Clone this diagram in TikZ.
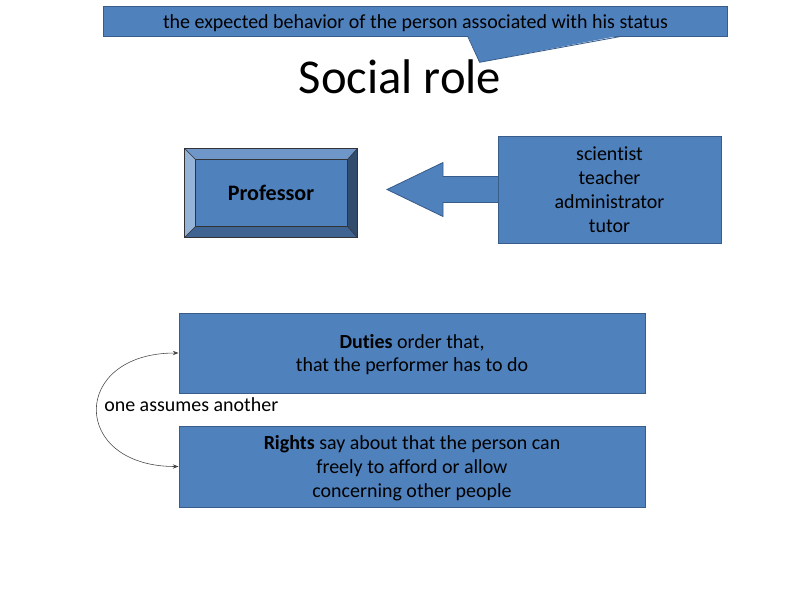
\documentclass[tikz,border=0pt]{standalone}
\usepackage{fontspec}
\setmainfont[Ligatures={NoCommon}]{Carlito}
\definecolor{slblue}{RGB}{79,129,189}
\definecolor{slborder}{RGB}{56,93,138}
\definecolor{sltop}{RGB}{110,150,200}
\definecolor{slleft}{RGB}{150,180,216}
\definecolor{slright}{RGB}{50,76,110}
\definecolor{slbottom}{RGB}{64,100,146}
\definecolor{slline}{RGB}{70,70,70}
\usetikzlibrary{arrows.meta,positioning,calc}
\tikzset{
  bluebox/.style={draw=slborder, line width=0.6pt, fill=slblue, inner sep=0pt, align=center,
                  text depth=-4.5pt, font=\fontsize{14.2}{17}\selectfont},
  callbox/.style={fill=slblue, inner sep=0pt, align=center, text depth=-3pt,
                  font=\fontsize{14.2}{17}\selectfont},
  bevelbox/.style={fill=slblue, inner sep=0pt, font=\fontsize{15.7}{19}\selectfont\bfseries},
  titletext/.style={font=\fontsize{34.6}{40}\selectfont},
  plaintext/.style={font=\fontsize{14.2}{17}\selectfont, inner sep=0pt},
  bendarrow/.style={draw=slline, thin, {Stealth[length=4pt,width=3pt]}-{Stealth[length=4pt,width=3pt]}},
}

\begin{document}
\begin{tikzpicture}[x=0.025cm, y=-0.025cm]
  \useasboundingbox (0,0) rectangle (800,600);

  % Callout with its tail
  \node[callbox, minimum width=15.575cm, minimum height=0.725cm] (callout) at (415.5,21.5)
        {the expected behavior of the person associated with his status};
  \draw[slborder, line width=0.6pt] (callout.north west) rectangle (callout.south east);
  \fill[slblue] ($(callout.south west)+(364,-1)$) -- ($(callout.south west)+(376,26)$)
        -- ($(callout.south west)+(518,-1)$) -- cycle;
  \draw[slborder, line width=0.6pt] ($(callout.south west)+(364,0)$) -- ($(callout.south west)+(376,26)$)
        -- ($(callout.south west)+(518,0)$);

  % Title
  \node[titletext] (title) at (400,77) {Social role};

  % Professor (bevelled box)
  \node[bevelbox, minimum width=4.3cm, minimum height=2.2cm] (prof) at (271,193) {Professor};
  \coordinate (pnw) at ($(prof.north west)+(11,11)$);
  \coordinate (pne) at ($(prof.north east)+(-10,11)$);
  \coordinate (psw) at ($(prof.south west)+(11,-11)$);
  \coordinate (pse) at ($(prof.south east)+(-10,-11)$);
  \fill[sltop] (prof.north west) -- (prof.north east) -- (pne) -- (pnw) -- cycle;
  \fill[slleft] (prof.north west) -- (pnw) -- (psw) -- (prof.south west) -- cycle;
  \fill[slright] (prof.north east) -- (prof.south east) -- (pse) -- (pne) -- cycle;
  \fill[slbottom] (prof.south west) -- (psw) -- (pse) -- (prof.south east) -- cycle;
  \draw[black!80, thin] (prof.north west) rectangle (prof.south east);
  \draw[black!80, thin] (pnw) rectangle (pse);
  \draw[black!80, thin] (prof.north west) -- (pnw) (prof.north east) -- (pne)
        (prof.south west) -- (psw) (prof.south east) -- (pse);

  % Roles and block arrow
  \coordinate (listw) at (498,189.5);
  \draw[slborder, line width=0.6pt, fill=slblue] ($(listw)+(0,-13)$) -- ($(listw)+(-55,-13)$)
        -- ($(listw)+(-55,-27)$) -- ($(listw)+(-111,0)$) -- ($(listw)+(-55,27)$)
        -- ($(listw)+(-55,13)$) -- ($(listw)+(0,13)$);
  \node[bluebox, minimum width=5.575cm, minimum height=2.675cm] (roles) at (609.5,189.5)
        {scientist\\teacher\\administrator\\tutor};

  % Duties and rights
  \node[bluebox, minimum width=11.65cm, minimum height=2cm] (duties) at (412,353)
        {\textbf{Duties} order that,\\that the performer has to do};
  \node[bluebox, minimum width=11.65cm, minimum height=2.025cm] (rights) at (412,466.5)
        {\textbf{Rights} say about that the person can\\freely to afford or allow\\concerning other people};

  % Link between them
  \draw[bendarrow] (duties.west) to[out=180, in=180, looseness=2.45] (rights.west);
  \node[plaintext, anchor=west] (assume) at (104,405) {one assumes another};

\end{tikzpicture}
\end{document}
